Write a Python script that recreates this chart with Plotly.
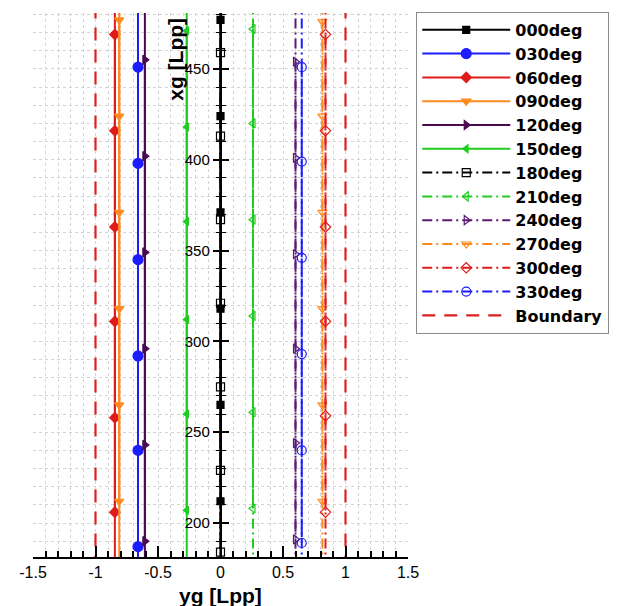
import plotly.graph_objects as go

# ---------------- data ----------------
XG_SPAN = [175, 490]          # along-track extent of the trajectories (xg, Lpp)

NAMES = ["000deg", "030deg", "060deg", "090deg", "120deg", "150deg",
         "180deg", "210deg", "240deg", "270deg", "300deg", "330deg"]

# lateral position (yg) of each trajectory
YG_000 = [0.0, 0.0, 0.0, 0.0, 0.0, 0.0]
YG_030 = [-0.66, -0.66, -0.66, -0.66, -0.66, -0.66]
YG_060 = [-0.845, -0.845, -0.845, -0.845, -0.845, -0.845]
YG_090 = [-0.81, -0.81, -0.81, -0.81, -0.81, -0.81]
YG_120 = [-0.605, -0.605, -0.605, -0.605, -0.605, -0.605]
YG_150 = [-0.27, -0.27, -0.27, -0.27, -0.27, -0.27]
YG_180 = [0.0, 0.0, 0.0, 0.0, 0.0, 0.0, 0.0]
YG_210 = [0.26, 0.26, 0.26, 0.26, 0.26, 0.26]
YG_240 = [0.60, 0.60, 0.60, 0.60, 0.60, 0.60]
YG_270 = [0.815, 0.815, 0.815, 0.815, 0.815, 0.815]
YG_300 = [0.84, 0.84, 0.84, 0.84, 0.84, 0.84]
YG_330 = [0.65, 0.65, 0.65, 0.65, 0.65, 0.65]

# along-track positions (xg) of the plotted symbols
XG_000 = [477, 424, 371, 318, 265, 212]
XG_030 = [451, 398, 345, 292, 240, 187]
XG_060 = [469, 416, 363, 311, 258, 206]
XG_090 = [477, 424, 371, 318, 265, 212]
XG_120 = [455, 402, 349, 296, 243, 190]
XG_150 = [471, 418, 366, 312, 260, 207]
XG_180 = [459, 413, 367, 321, 275, 229, 184]
XG_210 = [472, 420, 367, 314, 261, 208]
XG_240 = [454, 401, 348, 296, 244, 191]
XG_270 = [476, 424, 371, 318, 265, 212]
XG_300 = [469, 416, 363, 311, 259, 206]
XG_330 = [451, 399, 346, 293, 240, 189]

BOUNDARY_YG = [-1.0, 1.0]

X_TICKS = [-1.5, -1, -0.5, 0, 0.5, 1, 1.5]
X_TICK_TEXT = ["-1.5", "-1", "-0.5", "0", "0.5", "1", "1.5"]

YG_ALL = [YG_000, YG_030, YG_060, YG_090, YG_120, YG_150,
          YG_180, YG_210, YG_240, YG_270, YG_300, YG_330]
XG_ALL = [XG_000, XG_030, XG_060, XG_090, XG_120, XG_150,
          XG_180, XG_210, XG_240, XG_270, XG_300, XG_330]

# ---------------- styles ----------------
BLACK = "#000000"
BLUE = "#1c1cff"
RED = "#e01b1b"
ORANGE = "#ff8a1c"
PURPLE = "#4a0a52"
PURPLE2 = "#5c1a72"
GREEN = "#1fcc1f"
COLORS = [BLACK, BLUE, RED, ORANGE, PURPLE, GREEN,
          BLACK, GREEN, PURPLE2, ORANGE, RED, BLUE]
SYMBOLS = ["square", "circle", "diamond", "triangle-down", "triangle-right", "triangle-left",
           "square-open", "triangle-left-open", "triangle-right-open", "triangle-down-open",
           "diamond-open", "circle-open"]
SIZES = [7, 10, 8, 8, 8, 7, 8, 8, 8, 8, 8, 9]
DASHDOT = "10px,4px,2px,4px"
DASHES = ["solid"] * 6 + [DASHDOT] * 6

fig = go.Figure()

for i, name in enumerate(NAMES):
    yg_line = [YG_ALL[i][0], YG_ALL[i][-1]]
    fig.add_trace(go.Scatter(
        x=yg_line, y=XG_SPAN, mode="lines",
        line=dict(color=COLORS[i], width=2, dash=DASHES[i]),
        showlegend=False, hoverinfo="skip"))
    fig.add_trace(go.Scatter(
        x=YG_ALL[i], y=XG_ALL[i], mode="lines+markers", name=name,
        line=dict(color=COLORS[i], width=2, dash=DASHES[i]),
        marker=dict(symbol=SYMBOLS[i], size=SIZES[i], color=COLORS[i],
                    line=dict(color=COLORS[i], width=1.2))))

for k, yb in enumerate(BOUNDARY_YG):
    fig.add_trace(go.Scatter(
        x=[yb, yb], y=XG_SPAN, mode="lines", name="Boundary",
        showlegend=(k == 0),
        line=dict(color="#dd2020", width=2.2, dash="13px,9px"),
        yaxis="y2"))

Y_RANGE = [181.3, 480.8]
GRID = "#d4d4d4"

fig.update_layout(
    width=617, height=606,
    margin=dict(l=33, r=209, t=13, b=49, autoexpand=False),
    plot_bgcolor="white", paper_bgcolor="white",
    font=dict(family="Liberation Sans, Arial, sans-serif", color="black"),
    xaxis=dict(
        range=[-1.5, 1.5], tickvals=X_TICKS, ticktext=X_TICK_TEXT,
        ticks="inside", ticklen=11, tickwidth=2, tickcolor="black",
        showline=True, linecolor="black", linewidth=2,
        showgrid=True, gridcolor=GRID, griddash="dot", gridwidth=1,
        zeroline=False, tickfont=dict(size=16), ticklabelstandoff=0,
        minor=dict(dtick=0.1, tick0=0, ticks="inside", ticklen=6, tickwidth=1.5,
                   tickcolor="black", showgrid=True, gridcolor=GRID, griddash="dot"),
    ),
    yaxis=dict(
        range=Y_RANGE, dtick=50, tick0=0,
        anchor="free", position=0.5, side="left",
        ticks="outside", ticklen=7, tickwidth=1.5, tickcolor="black",
        showline=True, linecolor="black", linewidth=1.5,
        showgrid=True, gridcolor=GRID, griddash="dot", gridwidth=1,
        zeroline=False, tickfont=dict(size=15),
        minor=dict(dtick=10, tick0=0, ticks="outside", ticklen=4, tickwidth=1,
                   tickcolor="black", showgrid=True, gridcolor=GRID, griddash="dot"),
    ),
    yaxis2=dict(
        range=Y_RANGE, dtick=50, tick0=0, overlaying="y",
        anchor="free", position=0.5, side="left",
        ticks="inside", ticklen=7, tickwidth=1.5, tickcolor="black",
        showticklabels=False, showline=False, showgrid=False, zeroline=False,
        minor=dict(dtick=10, tick0=0, ticks="inside", ticklen=4, tickwidth=1,
                   tickcolor="black", showgrid=False),
    ),
    legend=dict(
        x=1.022, xanchor="left", y=1.002, yanchor="top",
        bordercolor="#8a8a8a", borderwidth=1, bgcolor="white",
        font=dict(family="DejaVu Sans", size=16, weight="bold"),
        itemwidth=88, tracegroupgap=0, traceorder="normal",
        maxheight=1.0,
    ),
    annotations=[
        dict(text="<b>xg [Lpp]</b>", textangle=-90, xref="paper", yref="paper",
             x=0.38, y=0.915, showarrow=False, font=dict(size=21),
             xanchor="center", yanchor="middle"),
        dict(text="<b>yg [Lpp]</b>", xref="paper", yref="paper",
             x=0.5, y=-0.07, showarrow=False, font=dict(size=21),
             xanchor="center", yanchor="middle"),
    ],
)

fig.write_html("out.html")
